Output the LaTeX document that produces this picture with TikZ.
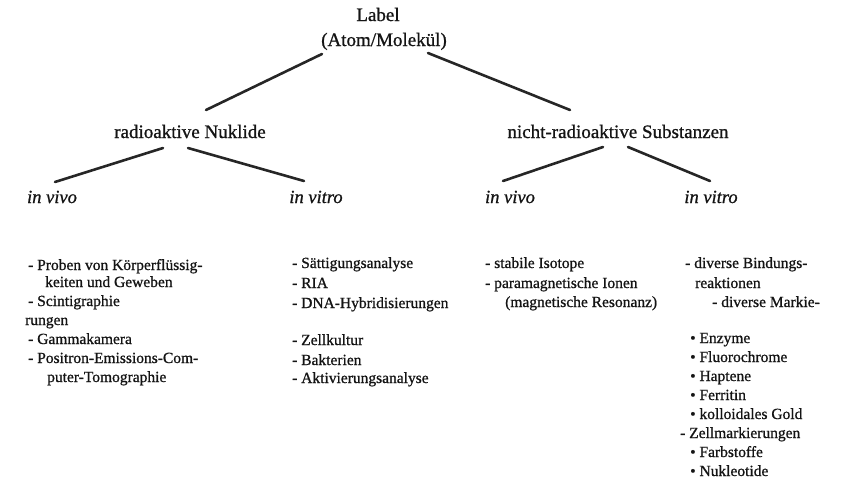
\documentclass[tikz,border=0pt]{standalone}
\usepackage{fontspec}
\setmainfont{Liberation Serif}[FakeBold=0.9]
\begin{document}
\begin{tikzpicture}[x=1pt,y=-1pt,
  head/.style={anchor=base,inner sep=0pt,text=black!92,font=\fontsize{19}{22}\selectfont},
  sub/.style={anchor=base,inner sep=0pt,text=black!92,font=\fontsize{18.5}{22}\itshape},
  item/.style={anchor=base west,inner sep=0pt,text=black!92,font=\fontsize{15.5}{19}\selectfont},
  conn/.style={draw=black!85,line width=2.6pt,line cap=round}]
\useasboundingbox (0,0) rectangle (843,479);
% headings
\node[head] (lab1) at (378,21) {Label};
\node[head] (lab2) at (384,46) {(Atom/Molekül)};
\node[head] (rn) at (190,138) {radioaktive Nuklide};
\node[head] (nr) at (618,138) {nicht-radioaktive Substanzen};
\node[sub] (ivL) at (52,203) {in vivo};
\node[sub] (itL) at (316,203) {in vitro};
\node[sub] (ivR) at (510,203) {in vivo};
\node[sub] (itR) at (711,203) {in vitro};
% connectors
\draw[conn] ([shift={(-62,8)}]lab2.base) -- ([shift={(16,-28)}]rn.base);
\draw[conn] ([shift={(44,7)}]lab2.base) -- ([shift={(-48,-28)}]nr.base);
\draw[conn] ([shift={(-27,10)}]rn.base) -- ([shift={(3,-21)}]ivL.base);
\draw[conn] ([shift={(-2,10)}]rn.base) -- ([shift={(-12,-22)}]itL.base);
\draw[conn] ([shift={(-15,9)}]nr.base) -- ([shift={(-7,-22)}]ivR.base);
\draw[conn] ([shift={(10,9)}]nr.base) -- ([shift={(-1,-22)}]itR.base);
% left column
\node[item] (a1) at (28,270) {- Proben von Körperflüssig-};
\node[item] (a2) at (45,287) {keiten und Geweben};
\node[item] (a3) at (28,306) {- Scintigraphie};
\node[item] (a4) at (25,325) {rungen};
\node[item] (a5) at (28,344) {- Gammakamera};
\node[item] (a6) at (28,363) {- Positron-Emissions-Com-};
\node[item] (a7) at (47,382) {puter-Tomographie};
% middle column
\node[item] (b1) at (292,268) {- Sättigungsanalyse};
\node[item] (b2) at (292,288) {- RIA};
\node[item] (b3) at (292,308) {- DNA-Hybridisierungen};
\node[item] (b4) at (292,345) {- Zellkultur};
\node[item] (b5) at (292,365) {- Bakterien};
\node[item] (b6) at (292,383) {- Aktivierungsanalyse};
% right-middle column
\node[item] (c1) at (485,268) {- stabile Isotope};
\node[item] (c2) at (485,288) {- paramagnetische Ionen};
\node[item] (c3) at (505,307) {(magnetische Resonanz)};
% right column
\node[item] (d1) at (685,268) {- diverse Bindungs-};
\node[item] (d2) at (695,288) {reaktionen};
\node[item] (d3) at (712,307) {- diverse Markie-};
\node[item] (d4) at (690,343) {• Enzyme};
\node[item] (d5) at (690,362) {• Fluorochrome};
\node[item] (d6) at (690,381) {• Haptene};
\node[item] (d7) at (690,400) {• Ferritin};
\node[item] (d8) at (690,419) {• kolloidales Gold};
\node[item] (d9) at (680,438) {- Zellmarkierungen};
\node[item] (d10) at (690,457) {• Farbstoffe};
\node[item] (d11) at (690,476) {• Nukleotide};
\end{tikzpicture}
\end{document}
